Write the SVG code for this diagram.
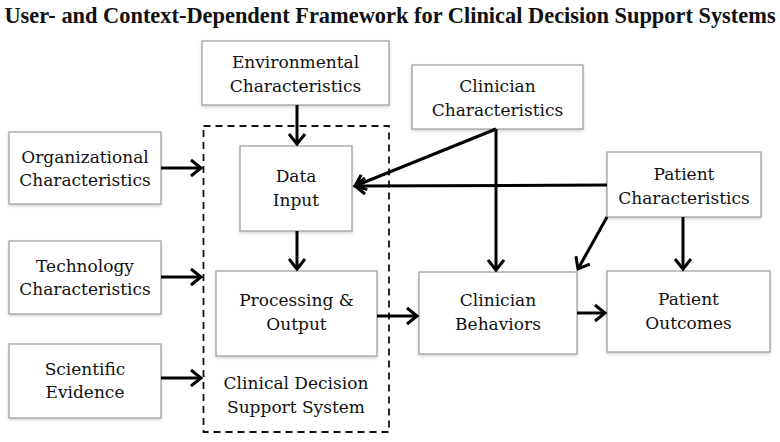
<svg xmlns="http://www.w3.org/2000/svg" width="780" height="442" viewBox="0 0 780 442">
<defs>
<marker id="ah" markerUnits="userSpaceOnUse" markerWidth="20" markerHeight="20" viewBox="-12 -10 14 20" refX="0" refY="0" orient="auto">
<polyline points="-10,-8 0,0 -10,8" fill="none" stroke="#000" stroke-width="3"/>
</marker>
<filter id="sh" x="-10%" y="-10%" width="120%" height="130%">
<feDropShadow dx="0" dy="1.5" stdDeviation="1.5" flood-color="#000" flood-opacity="0.18"/>
</filter>
</defs>
<style>
.box{fill:#fff;stroke:#9a9a9a;stroke-width:1.2;filter:url(#sh)}
.t{font-family:"DejaVu Serif","Liberation Serif",serif;font-size:17px;fill:#111;text-anchor:middle}
.c{fill:none;stroke:#000;stroke-width:3}
.title{font-family:"Liberation Serif","Times New Roman",serif;font-weight:bold;font-size:22.4px;fill:#111;text-anchor:middle}
</style>
<rect width="780" height="442" fill="#fff"/>
<text class="title" x="390" y="23">User- and Context-Dependent Framework for Clinical Decision Support Systems</text>

<g id="cdss">
<rect x="203.5" y="126" width="185.5" height="306" fill="none" stroke="#111" stroke-width="1.8" stroke-dasharray="7,5"/>
<text class="t" x="296" y="389">Clinical Decision</text>
<text class="t" x="296" y="413">Support System</text>
</g>

<g id="environmental"><rect class="box" x="202" y="41" width="187" height="64"/>
<text class="t" x="295.5" y="68">Environmental</text><text class="t" x="295.5" y="92">Characteristics</text></g>

<g id="clinician-char"><rect class="box" x="412" y="65" width="171" height="64"/>
<text class="t" x="497.5" y="92">Clinician</text><text class="t" x="497.5" y="116">Characteristics</text></g>

<g id="organizational"><rect class="box" x="9" y="132" width="152" height="72"/>
<text class="t" x="85" y="163">Organizational</text><text class="t" x="85" y="186">Characteristics</text></g>

<g id="technology"><rect class="box" x="9" y="241" width="152" height="73"/>
<text class="t" x="85" y="272">Technology</text><text class="t" x="85" y="295">Characteristics</text></g>

<g id="scientific"><rect class="box" x="9" y="344" width="152" height="74"/>
<text class="t" x="85" y="375">Scientific</text><text class="t" x="85" y="398">Evidence</text></g>

<g id="data-input"><rect class="box" x="240" y="146" width="112" height="85"/>
<text class="t" x="296" y="182">Data</text><text class="t" x="296" y="206">Input</text></g>

<g id="processing"><rect class="box" x="216" y="271" width="161" height="85"/>
<text class="t" x="296.5" y="306">Processing &amp;</text><text class="t" x="296.5" y="330">Output</text></g>

<g id="patient-char"><rect class="box" x="607" y="152" width="154" height="65"/>
<text class="t" x="684" y="180">Patient</text><text class="t" x="684" y="204">Characteristics</text></g>

<g id="clinician-beh"><rect class="box" x="419" y="272" width="158" height="82"/>
<text class="t" x="498" y="306">Clinician</text><text class="t" x="498" y="330">Behaviors</text></g>

<g id="patient-out"><rect class="box" x="607" y="271" width="163" height="81"/>
<text class="t" x="688.5" y="305">Patient</text><text class="t" x="688.5" y="329">Outcomes</text></g>

<g id="connectors">
<line class="c" x1="297" y1="105" x2="297" y2="144" marker-end="url(#ah)"/>
<line class="c" x1="297" y1="231" x2="297" y2="269" marker-end="url(#ah)"/>
<line class="c" x1="161" y1="168" x2="201" y2="168" marker-end="url(#ah)"/>
<line class="c" x1="161" y1="277" x2="201" y2="277" marker-end="url(#ah)"/>
<line class="c" x1="161" y1="378" x2="201" y2="378" marker-end="url(#ah)"/>
<line class="c" x1="496" y1="129" x2="355" y2="186" marker-end="url(#ah)"/>
<line class="c" x1="607" y1="185" x2="355" y2="186" marker-end="url(#ah)"/>
<line class="c" x1="496" y1="129" x2="496" y2="270" marker-end="url(#ah)"/>
<line class="c" x1="607" y1="217" x2="578" y2="269" marker-end="url(#ah)"/>
<line class="c" x1="683" y1="217" x2="683" y2="269" marker-end="url(#ah)"/>
<line class="c" x1="377" y1="316" x2="417" y2="316" marker-end="url(#ah)"/>
<line class="c" x1="577" y1="313" x2="605" y2="313" marker-end="url(#ah)"/>
</g>
</svg>
